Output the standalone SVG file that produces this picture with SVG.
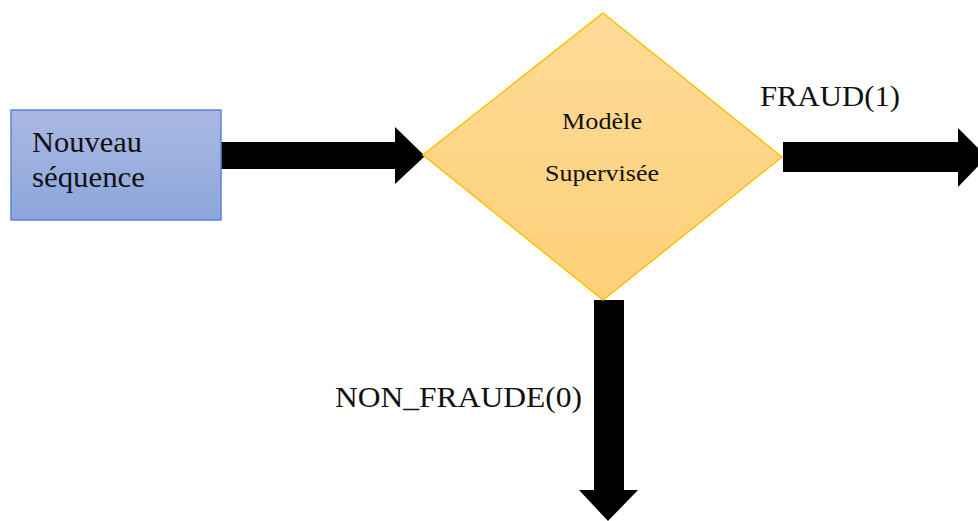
<svg xmlns="http://www.w3.org/2000/svg" width="978" height="521" viewBox="0 0 978 521">
<defs>
<linearGradient id="gBlue" x1="0" y1="0" x2="0" y2="1">
<stop offset="0" stop-color="#AAB9E2"/>
<stop offset="1" stop-color="#8DA5DC"/>
</linearGradient>
<linearGradient id="gGold" x1="0" y1="0" x2="0" y2="1">
<stop offset="0" stop-color="#FDDB98"/>
<stop offset="1" stop-color="#FED079"/>
</linearGradient>
<style>
.t{font-family:"Liberation Serif","Times New Roman",serif;fill:#111}
.arr{fill:#000}
</style>
</defs>
<rect width="978" height="521" fill="#fff"/>
<g id="connectors">
<path class="arr" d="M221,142 H395 V127 L425,156 L395,184 V169 H221 Z"/>
<path class="arr" d="M783,142 H958 V128 L987,157 L958,187 V172 H783 Z"/>
<path class="arr" d="M594,300 H624 V490 H638 L608,521 L579,490 H594 Z"/>
</g>
<g id="node-nouveau">
<rect x="11" y="110" width="210" height="110" fill="url(#gBlue)" stroke="#5B86D0" stroke-width="1.5"/>
<text class="t" x="32" y="152" font-size="29" textLength="110" lengthAdjust="spacingAndGlyphs">Nouveau</text>
<text class="t" x="32" y="187" font-size="29" textLength="113" lengthAdjust="spacingAndGlyphs">séquence</text>
</g>
<g id="node-modele">
<polygon points="603,13 782,157 603,300 423,155" fill="url(#gGold)" stroke="#FFC000" stroke-width="1.5"/>
<text class="t" x="562" y="129" font-size="24" textLength="80" lengthAdjust="spacingAndGlyphs">Modèle</text>
<text class="t" x="545" y="181" font-size="24" textLength="114" lengthAdjust="spacingAndGlyphs">Supervisée</text>
</g>
<g id="labels">
<text class="t" x="760" y="106" font-size="30" textLength="140" lengthAdjust="spacingAndGlyphs">FRAUD(1)</text>
<text class="t" x="335" y="407" font-size="30" textLength="247" lengthAdjust="spacingAndGlyphs">NON_FRAUDE(0)</text>
</g>
</svg>
